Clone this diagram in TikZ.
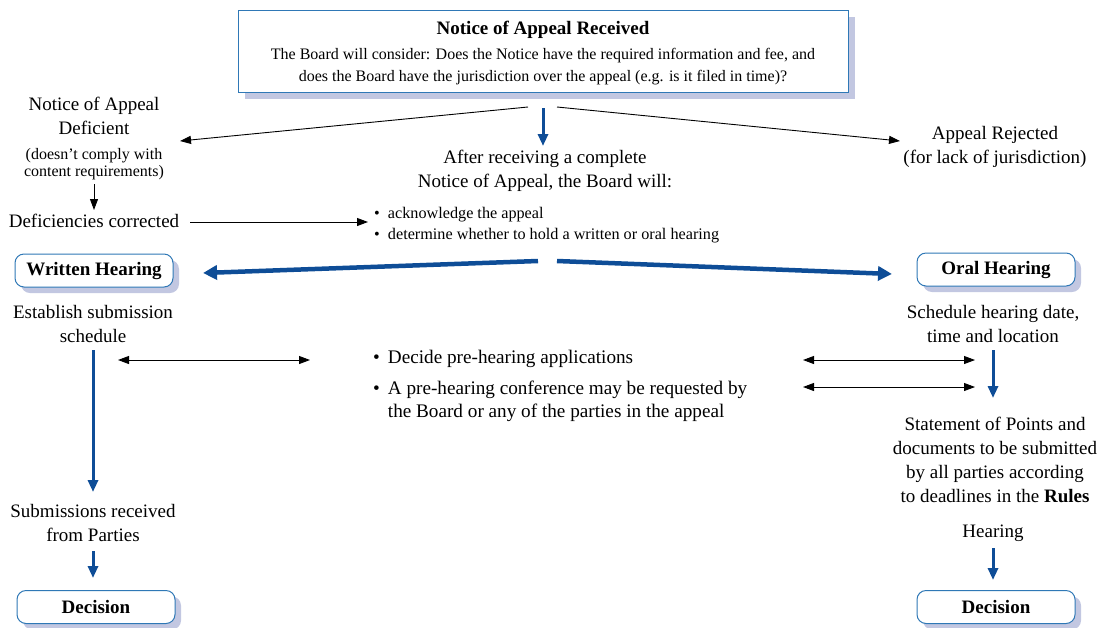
\documentclass[tikz,border=0pt]{standalone}
\usepackage{fontspec}
\setmainfont{Liberation Serif}
\usetikzlibrary{arrows.meta,shadows,calc}
\definecolor{arrowblue}{HTML}{0E4D97}
\definecolor{boxline}{HTML}{2F78B6}
\definecolor{shadowc}{HTML}{C2C7E1}
\newcommand{\mainsz}{\fontsize{19}{24}\selectfont}
\newcommand{\notesz}{\fontsize{16}{17}\selectfont}
\newcommand{\bulsz}{\fontsize{16.2}{21}\selectfont}
\newcommand{\midsz}{\fontsize{19.2}{23}\selectfont}
\begin{document}
\begin{tikzpicture}[x=1pt,y=-1pt,
  txt/.style={align=center,font=\mainsz,inner sep=0pt},
  rbox/.style={draw=boxline,line width=1pt,rounded corners=9pt,fill=white,
    minimum width=158pt,minimum height=33pt,inner sep=0pt,font=\mainsz\bfseries,
    drop shadow={shadow xshift=6pt,shadow yshift=-6pt,fill=shadowc,opacity=1}},
  topbox/.style={draw=boxline,line width=1pt,fill=white,minimum width=610pt,
    minimum height=82pt,inner sep=0pt,
    drop shadow={shadow xshift=7pt,shadow yshift=-7pt,fill=shadowc,opacity=1}},
  thin/.style={black,line width=0.9pt,-{Triangle[length=11pt,width=8pt]}},
  thinboth/.style={black,line width=0.9pt,{Triangle[length=11pt,width=8pt]}-{Triangle[length=11pt,width=8pt]}},
  bluev/.style={arrowblue,line width=3pt,-{Triangle[length=12pt,width=10pt]}},
  blueh/.style={arrowblue,line width=4.5pt,-{Triangle[length=14pt,width=14pt]}}
]
\useasboundingbox (0,0) rectangle (1107,627);

% top box
\node[topbox] (top) at (543,51) {};
\node[inner sep=0pt,align=center,font=\fontsize{16}{22}\selectfont] (toptext) at (543,53.5)
{{\fontsize{19}{24}\selectfont\bfseries Notice of Appeal Received}\\[3pt]
The Board will consider: Does the Notice have the required information and fee, and\\
does the Board have the jurisdiction over the appeal (e.g. is it filed in time)?};

% left column top
\node[txt] (def) at (94,116) {Notice of Appeal\\Deficient};
\node[txt,font=\notesz] (defnote) at (94,164) {(doesn't comply with\\content requirements)};
\node[txt] (corr) at (94,221) {Deficiencies corrected};

% right top
\node[txt] (rej) at (995,147) {Appeal Rejected\\(for lack of jurisdiction)};

% middle
\node[txt] (after) at (545,171) {After receiving a complete\\Notice of Appeal, the Board will:};
\node[anchor=west,inner sep=0pt,font=\bulsz,align=left] (ack) at (374,225.5)
  {\textbullet\ \ acknowledge the appeal\\ \textbullet\ \ determine whether to hold a written or oral hearing};

% hearing boxes
\node[rbox] (wh) at (94,270.5) {Written Hearing};
\node[rbox] (oh) at (996,269.5) {Oral Hearing};

\node[txt] (est) at (93,324) {Establish submission\\schedule};
\node[txt] (sched) at (993,324) {Schedule hearing date,\\time and location};

\node[anchor=north west,inner sep=0pt,font=\midsz] (pre) at (373,347)
  {\begin{tabular}{@{}l@{\hspace{8pt}}l@{}}
   \textbullet & Decide pre-hearing applications\\[8pt]
   \textbullet & A pre-hearing conference may be requested by\\
   & the Board or any of the parties in the appeal
   \end{tabular}};

\node[txt] (stmt) at (995,460) {Statement of Points and\\documents to be submitted\\by all parties according\\to deadlines in the \textbf{Rules}};
\node[txt] (hear) at (993,533) {Hearing};
\node[txt] (subm) at (93,523) {Submissions received\\from Parties};

\node[rbox] (decl) at (96,607) {Decision};
\node[rbox] (decr) at (996,607) {Decision};

% coordinates
\coordinate (tl) at (528,107);
\coordinate (tr) at (557,107);
\coordinate (tm) at (543,108);
\coordinate (tmE) at (543,146);
\coordinate (defA) at (180,141);
\coordinate (rejA) at (900,141);
\coordinate (corrE) at (190,222);
\coordinate (ackW) at (368,222);
\coordinate (fl) at (538,261);
\coordinate (fr) at (557,261);
\coordinate (whE) at (203,273);
\coordinate (ohW) at (892,274);
\coordinate (lA) at (118,360);
\coordinate (lB) at (310,360);
\coordinate (rA1) at (803,360);
\coordinate (rB1) at (975,360);
\coordinate (rA2) at (803,387);
\coordinate (rB2) at (975,387);
\coordinate (estS) at (93,350);
\coordinate (submN) at (93,492);
\coordinate (schedS) at (993,350);
\coordinate (stmtN) at (993,398);
\coordinate (hearS) at (993,548);
\coordinate (decrN) at (993,580);
\coordinate (submS) at (93,551);
\coordinate (declN) at (93,578);
\coordinate (defS) at (94,184);
\coordinate (corrN) at (94,210);

% connectors
\draw[thin] (tl) -- (defA);
\draw[thin] (tr) -- (rejA);
\draw[bluev] (tm) -- (tmE);
\draw[thin] (defS) -- (corrN);
\draw[thin] (corrE) -- (ackW);
\draw[blueh] (fl) -- (whE);
\draw[blueh] (fr) -- (ohW);
\draw[thinboth] (lA) -- (lB);
\draw[thinboth] (rA1) -- (rB1);
\draw[thinboth] (rA2) -- (rB2);
\draw[bluev] (estS) -- (submN);
\draw[bluev] (schedS) -- (stmtN);
\draw[bluev] (hearS) -- (decrN);
\draw[bluev] (submS) -- (declN);
\end{tikzpicture}
\end{document}
